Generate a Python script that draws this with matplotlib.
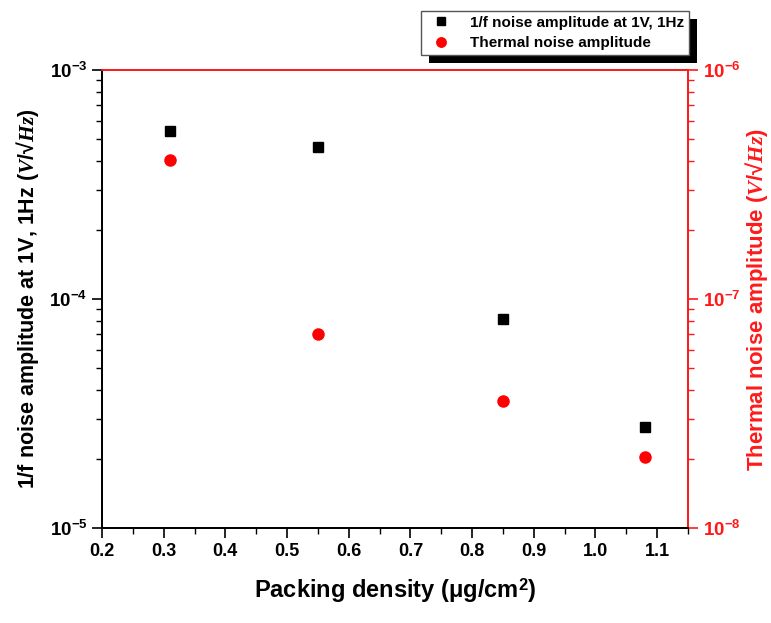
import math
import matplotlib
matplotlib.use("Agg")
import matplotlib.pyplot as plt
from matplotlib.ticker import LogLocator, MultipleLocator, FuncFormatter, NullFormatter
from matplotlib.patches import Rectangle

plt.rcParams.update({
    'font.family': 'Liberation Sans',
    'font.weight': 'bold',
    'mathtext.fontset': 'custom',
    'mathtext.rm': 'Liberation Sans:bold',
    'mathtext.bf': 'Liberation Sans:bold',
    'mathtext.it': 'Liberation Serif:italic:bold',
})

# Data
density = [0.31, 0.55, 0.85, 1.08]
flicker_noise = [5.4e-4, 4.6e-4, 8.2e-5, 2.75e-5]
thermal_noise = [4.05e-7, 7.05e-8, 3.6e-8, 2.04e-8]
xtick_vals = [0.2, 0.3, 0.4, 0.5, 0.6, 0.7, 0.8, 0.9, 1.0, 1.1]

RED = '#ff1a1a'


def pow_fmt(v, pos):
    if v <= 0:
        return ''
    e = int(round(math.log10(v)))
    return r'$\mathregular{10^{%d}}$' % e


fig = plt.figure(figsize=(7.71, 6.23), dpi=100)
ax = fig.add_axes([102 / 771, 1 - 528 / 623, (688 - 102) / 771, (528 - 70) / 623])
ax2 = ax.twinx()

h1, = ax.plot(density, flicker_noise, 's', color='black', ms=7.5, linestyle='none',
              label='1/f noise amplitude at 1V, 1Hz')
h2, = ax2.plot(density, thermal_noise, 'o', color='red', ms=8, linestyle='none',
               label='Thermal noise amplitude')

ax.set_xlim(0.2, 1.15)
ax.set_yscale('log')
ax.set_ylim(1e-5, 1e-3)
ax2.set_yscale('log')
ax2.set_ylim(1e-8, 1e-6)

ax.set_xticks(xtick_vals)
ax.set_xticklabels(['%.1f' % v for v in xtick_vals])
ax.xaxis.set_minor_locator(MultipleLocator(0.05))

for a in (ax, ax2):
    a.yaxis.set_major_locator(LogLocator(base=10, numticks=10))
    a.yaxis.set_minor_locator(LogLocator(base=10, subs=range(2, 10), numticks=10))
    a.yaxis.set_major_formatter(FuncFormatter(pow_fmt))
    a.yaxis.set_minor_formatter(NullFormatter())
    a.tick_params(which='major', direction='out', length=7, width=1.2, labelsize=13.5)
    a.tick_params(which='minor', direction='out', length=4, width=1.0)
    for s in a.spines.values():
        s.set_linewidth(1.3)
    a.spines['left'].set_color('black')
    a.spines['bottom'].set_color('black')
    a.spines['top'].set_color(RED)
    a.spines['right'].set_color(RED)

ax.tick_params(axis='x', which='both', top=False, labelsize=13)
ax.tick_params(axis='y', which='both', colors='black')
ax2.tick_params(axis='y', which='both', colors=RED, labelcolor=RED)

unit = r'($V$/√$Hz$)'
ax.set_xlabel(r'Packing density (μg/cm$^{\mathregular{2}}$)', fontsize=17, fontweight='bold', labelpad=12)
ax.set_ylabel('1/f noise amplitude at 1V, 1Hz ' + unit, fontsize=15.5,
              fontweight='bold', labelpad=6)
ax2.set_ylabel('Thermal noise amplitude ' + unit, fontsize=16,
               fontweight='bold', color=RED, labelpad=2)

leg = fig.legend(handles=[h1, h2], loc='upper right',
                 bbox_to_anchor=(689 / 771, 1 - 11 / 623), borderaxespad=0,
                 fontsize=11, frameon=True, fancybox=False, framealpha=1,
                 edgecolor='#555555', borderpad=0.3, handletextpad=0.9,
                 labelspacing=0.45, markerscale=0.85)
leg.get_frame().set_linewidth(1.0)
leg.set_zorder(10)

fig.canvas.draw()
bb = leg.get_window_extent().transformed(fig.transFigure.inverted())
dx, dy = 8 / 771, 8 / 623
shadow = Rectangle((bb.x0 + dx, bb.y0 - dy), bb.width, bb.height,
                   transform=fig.transFigure, facecolor='black', edgecolor='none', zorder=9)
fig.add_artist(shadow)

fig.savefig('out.png', dpi=100)
